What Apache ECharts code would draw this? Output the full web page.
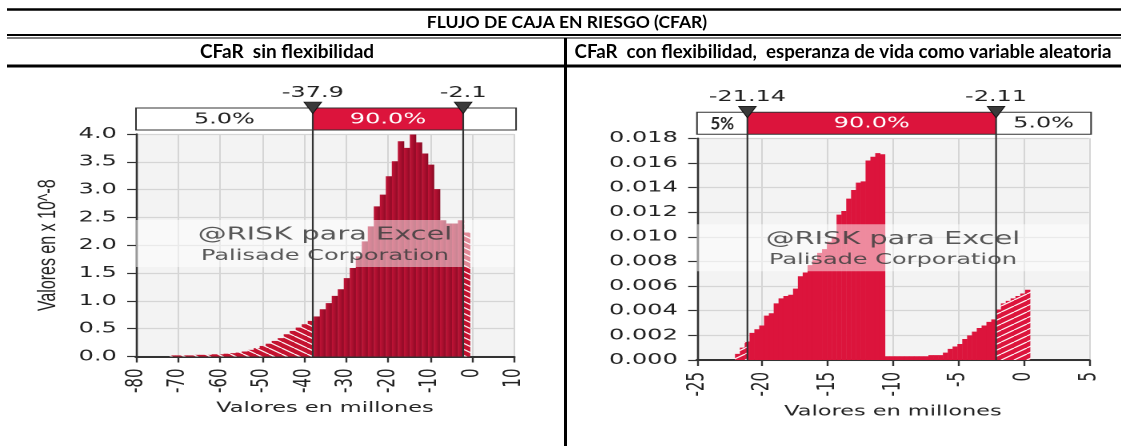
<!DOCTYPE html>
<html>
<head>
<meta charset="utf-8">
<script src="https://cdn.jsdelivr.net/npm/echarts@6.0.0/dist/echarts.min.js"></script>
<style>
  html,body{margin:0;padding:0;background:#fff;}
  #hdr{position:absolute;left:0;top:0;width:1121px;height:446px;}
  #c1{position:absolute;left:0;top:0;width:353px;height:446px;transform:scaleX(1.6);transform-origin:0 0;}
  #c2{position:absolute;left:566px;top:0;width:347px;height:446px;transform:scaleX(1.6);transform-origin:0 0;}
</style>
</head>
<body>
<div id="hdr"></div>
<div id="c1"></div>
<div id="c2"></div>
<script>
// ---------------- DATA ----------------
const mainTitle = 'FLUJO DE CAJA EN RIESGO (CFAR)';
const leftTitle = 'CFaR  sin flexibilidad';
const rightTitle = 'CFaR  con flexibilidad,  esperanza de vida como variable aleatoria';

// Left histogram (density, x 10^-8), bins from leftBinStart with leftBinWidth
const leftBinStart = -72.0;
const leftBinWidth = 1.43;
const leftValues = [0.02,0.02,0.02,0.02,0.03,0.03,0.03,0.04,0.04,0.05,
  0.06,0.07,0.09,0.12,0.15,0.19,0.23,0.28,0.33,0.40,
  0.46,0.52,0.58,0.64,0.72,0.85,0.96,1.09,1.21,1.41,
  1.59,1.80,2.07,2.34,2.70,2.91,3.24,3.51,3.87,3.75,
  3.99,3.85,3.65,3.45,3.01,2.45,2.39,2.39,2.45,2.23];
const leftMarkers = [-37.9, -2.1];
const leftSegLabels = ['5.0%', '90.0%', ''];
const leftXTicks = [-80, 10, 10];     // min, max, interval
const leftYTicks = [0, 4, 0.5];       // min, max, interval

// Right histogram (density)
const rightBinStart = -22.09;
const rightBinWidth = 0.37;
const rightValues = [0.0005,0.0010,0.0015,0.0022,0.0025,0.0028,0.0036,0.0038,0.0046,0.0050,
  0.0052,0.0053,0.0058,0.0068,0.0071,0.0077,0.0081,0.0087,0.0090,0.0096,
  0.0100,0.0118,0.0121,0.0131,0.0138,0.0144,0.0145,0.0162,0.0165,0.0168,
  0.0167,0.0003,0.0003,0.0003,0.0003,0.0003,0.0003,0.0003,0.0003,0.0003,
  0.0004,0.0004,0.0004,0.0006,0.0009,0.0011,0.0013,0.0017,0.0020,0.0023,
  0.0026,0.0028,0.0031,0.0033,0.0041,0.0046,0.0048,0.0050,0.0052,0.0054,0.0057];
const rightMarkers = [-21.14, -2.11];
const rightSegLabels = ['5%', '90.0%', '5.0%'];
const rightXTicks = [-25, 5, 5];
const rightYTicks = [0, 0.018, 0.002];

const watermark = ['@RISK para Excel', 'Palisade Corporation'];
const xAxisName = 'Valores en millones';
const leftYAxisName = 'Valores en x 10^-8';

// ---------------- HELPERS ----------------
const S = 1.6; // horizontal stretch of the pasted chart pictures
const NUM_FONT = 'DejaVu Sans';

function hatchPattern(dir, base) {
  const w = 16, h = 12;
  const c = document.createElement('canvas');
  c.width = w; c.height = h;
  const g = c.getContext('2d');
  g.fillStyle = base;
  g.fillRect(0, 0, w, h);
  g.strokeStyle = 'rgba(255,255,255,0.95)';
  g.lineWidth = 2.2;
  g.beginPath();
  for (let k = -1; k <= 1; k++) {
    if (dir === '/') { g.moveTo(k * w, h); g.lineTo(k * w + w, 0); }
    else { g.moveTo(k * w, 0); g.lineTo(k * w + w, h); }
  }
  g.stroke();
  return { image: c, repeat: 'repeat', scaleX: 0.5, scaleY: 0.5 };
}

function binsToItems(start, width, values, markers) {
  const items = [];
  values.forEach((v, i) => {
    let x0 = start + i * width, x1 = x0 + width;
    const cuts = [x0];
    markers.forEach(m => { if (m > x0 && m < x1) cuts.push(m); });
    cuts.push(x1);
    for (let k = 0; k < cuts.length - 1; k++) {
      const a = cuts[k], b = cuts[k + 1], mid = (a + b) / 2;
      const inside = mid >= markers[0] && mid <= markers[1] ? 1 : 0;
      items.push([a, b, v, inside]);
    }
  });
  return items;
}

function histSeries(items, solidFill, hatchFill) {
  return {
    type: 'custom', z: 2, clip: true, silent: true,
    encode: { x: [0, 1], y: 2 },
    data: items,
    renderItem(params, api) {
      const p0 = api.coord([api.value(0), api.value(2)]);
      const p1 = api.coord([api.value(1), 0]);
      return {
        type: 'rect',
        shape: { x: p0[0], y: p0[1], width: p1[0] - p0[0] + 0.25, height: p1[1] - p0[1] },
        style: { fill: api.value(3) ? solidFill : hatchFill }
      };
    }
  };
}

function overlaySeries(cfg) {
  return {
    type: 'custom', z: 10, clip: false, silent: true,
    data: [[cfg.markers[0], cfg.markers[1]]],
    renderItem(params, api) {
      const m5 = api.value(0), m95 = api.value(1);
      const tl = api.coord([cfg.xTicks[0], cfg.yTicks[1]]);
      const br = api.coord([cfg.xTicks[1], cfg.yTicks[0]]);
      const x5 = api.coord([m5, 0])[0], x95 = api.coord([m95, 0])[0];
      const xL = tl[0], xR = br[0] + 1.3, yT = tl[1], yB = br[1];
      const bT = yT - 26, bH = 22;
      const ch = [];
      // translucent watermark band
      ch.push({ type: 'rect', shape: { x: xL, y: yT + 86, width: br[0] - xL, height: 47 },
        style: { fill: 'rgba(255,255,255,0.5)' } });
      // percentile box
      ch.push({ type: 'rect', shape: { x: xL, y: bT, width: xR - xL, height: bH }, style: { fill: '#fff' } });
      ch.push({ type: 'rect', shape: { x: x5, y: bT, width: x95 - x5, height: bH }, style: { fill: '#dc143c' } });
      ch.push({ type: 'rect', shape: { x: xL, y: bT, width: xR - xL, height: bH },
        style: { fill: 'none', stroke: '#333', lineWidth: 1 } });
      [x5, x95].forEach(x => ch.push({ type: 'line', shape: { x1: x, y1: bT, x2: x, y2: yB },
        style: { stroke: '#333', lineWidth: 1.1 } }));
      [x5, x95].forEach(x => ch.push({ type: 'polygon',
        shape: { points: [[x - 5.5, bT - 6], [x + 5.5, bT - 6], [x, bT + 5.5]] },
        style: { fill: '#3a3a3a', stroke: '#111', lineWidth: 0.6 } }));
      [m5, m95].forEach((m, i) => ch.push({ type: 'text', x: [x5, x95][i], y: bT - 15,
        style: { text: m.toFixed(cfg.decimals), align: 'center', verticalAlign: 'middle',
          font: '15px "' + NUM_FONT + '"', fill: '#222' } }));
      // segment labels
      const segs = [[xL, x5], [x5, x95], [x95, xR]];
      segs.forEach((s, i) => {
        const t = cfg.segLabels[i];
        if (!t) return;
        const bold = cfg.boldFirst && i === 0;
        ch.push({ type: 'text', x: (s[0] + s[1]) / 2, y: bT + bH / 2 + 0.5,
          scaleX: bold ? 1 / S : 1,
          style: { text: t, align: 'center', verticalAlign: 'middle',
            font: bold ? 'bold 17px Lato' : '15px "' + NUM_FONT + '"',
            fill: i === 1 ? '#fff' : '#222' } });
      });
      // watermark text
      const cx = (xL + br[0]) / 2;
      ch.push({ type: 'text', x: cx, y: yT + 101, style: { text: cfg.watermark[0], align: 'center',
        verticalAlign: 'middle', font: '18px "' + NUM_FONT + '"', fill: 'rgba(60,60,60,0.85)' } });
      ch.push({ type: 'text', x: cx, y: yT + 122, style: { text: cfg.watermark[1], align: 'center',
        verticalAlign: 'middle', font: '15px "' + NUM_FONT + '"', fill: 'rgba(60,60,60,0.85)' } });
      return { type: 'group', children: ch };
    }
  };
}

function chartOption(cfg) {
  return {
    animation: false,
    grid: { left: cfg.grid[0], top: cfg.grid[1], width: cfg.grid[2], height: cfg.grid[3],
      show: true, backgroundColor: '#f3f3f3', borderWidth: 0 },
    xAxis: {
      type: 'value', min: cfg.xTicks[0], max: cfg.xTicks[1], interval: cfg.xTicks[2],
      axisLine: { show: true, onZero: false, lineStyle: { color: '#333', width: 2 } },
      axisTick: { show: true, length: 6, lineStyle: { color: '#333', width: 1.2 } },
      axisLabel: { rotate: 90, margin: 12, fontSize: 15, fontFamily: NUM_FONT, color: '#222',
        showMinLabel: true, showMaxLabel: true },
      splitLine: { show: true, lineStyle: { color: '#d5d5d5', width: 1 } },
      name: xAxisName, nameLocation: 'middle', nameGap: 45,
      nameTextStyle: { fontFamily: NUM_FONT, fontSize: 14, color: '#222' }
    },
    yAxis: {
      type: 'value', min: cfg.yTicks[0], max: cfg.yTicks[1], interval: cfg.yTicks[2],
      axisLine: { show: true, onZero: false, lineStyle: { color: '#333', width: 1.3 } },
      axisTick: { show: true, length: 5.5, lineStyle: { color: '#333', width: 1.2 } },
      axisLabel: { margin: 12, fontSize: 15, fontFamily: NUM_FONT, color: '#222',
        formatter: v => v.toFixed(cfg.yDec) },
      splitLine: { show: true, lineStyle: { color: '#d5d5d5', width: 1.2 } },
      name: cfg.yName || '', nameLocation: 'middle', nameGap: 45, nameRotate: 90,
      nameTextStyle: { fontFamily: 'Liberation Sans', fontSize: 16, color: '#222' }
    },
    series: [
      histSeries(binsToItems(cfg.binStart, cfg.binWidth, cfg.values, cfg.markers), cfg.solid, cfg.hatch),
      overlaySeries(cfg)
    ]
  };
}

// ---------------- HEADER ----------------
const hdr = echarts.init(document.getElementById('hdr'));
const tFont = 'bold 17.5px Lato';
const sFont = 'bold 19px Lato';
const sFontR = 'bold 18.7px Lato';
hdr.setOption({
  animation: false,
  graphic: [
    { type: 'line', shape: { x1: 7, y1: 9.5, x2: 1121, y2: 9.5 }, style: { stroke: '#000', lineWidth: 2.5 } },
    { type: 'text', x: 567, y: 22, style: { text: mainTitle, font: tFont, fill: '#000', align: 'center', verticalAlign: 'middle' } },
    { type: 'line', shape: { x1: 7, y1: 35, x2: 1121, y2: 35 }, style: { stroke: '#000', lineWidth: 2 } },
    { type: 'line', shape: { x1: 7, y1: 38, x2: 1121, y2: 38 }, style: { stroke: '#000', lineWidth: 1.2 } },
    { type: 'line', shape: { x1: 565.5, y1: 38, x2: 565.5, y2: 446 }, style: { stroke: '#000', lineWidth: 3 } },
    { type: 'text', x: 287, y: 52, style: { text: leftTitle, font: sFont, fill: '#000', align: 'center', verticalAlign: 'middle' } },
    { type: 'text', x: 843, y: 52, style: { text: rightTitle, font: sFontR, fill: '#000', align: 'center', verticalAlign: 'middle' } },
    { type: 'line', shape: { x1: 7, y1: 66, x2: 1121, y2: 66 }, style: { stroke: '#000', lineWidth: 3 } }
  ]
});

// ---------------- CHARTS ----------------
const leftSolid = new echarts.graphic.LinearGradient(0, 0, 1, 0, [
  { offset: 0, color: '#c11437' }, { offset: 0.55, color: '#a50e2d' }, { offset: 1, color: '#880a24' }]);
const c1 = echarts.init(document.getElementById('c1'), null, { devicePixelRatio: 2 });
c1.setOption(chartOption({
  grid: [136 / S, 134, 378 / S, 222.5],
  xTicks: leftXTicks, yTicks: leftYTicks, yDec: 1, yName: leftYAxisName,
  binStart: leftBinStart, binWidth: leftBinWidth, values: leftValues,
  markers: leftMarkers, decimals: 1, segLabels: leftSegLabels, boldFirst: false,
  solid: leftSolid, hatch: hatchPattern('\\', '#c4122f'), watermark: watermark
}));

const c2 = echarts.init(document.getElementById('c2'), null, { devicePixelRatio: 2 });
c2.setOption(chartOption({
  grid: [(697 - 566) / S, 138.3, 392 / S, 221.7],
  xTicks: rightXTicks, yTicks: rightYTicks, yDec: 3, yName: '',
  binStart: rightBinStart, binWidth: rightBinWidth, values: rightValues,
  markers: rightMarkers, decimals: 2, segLabels: rightSegLabels, boldFirst: true,
  solid: '#dc143c', hatch: hatchPattern('/', '#dc143c'), watermark: watermark
}));
</script>
</body>
</html>
